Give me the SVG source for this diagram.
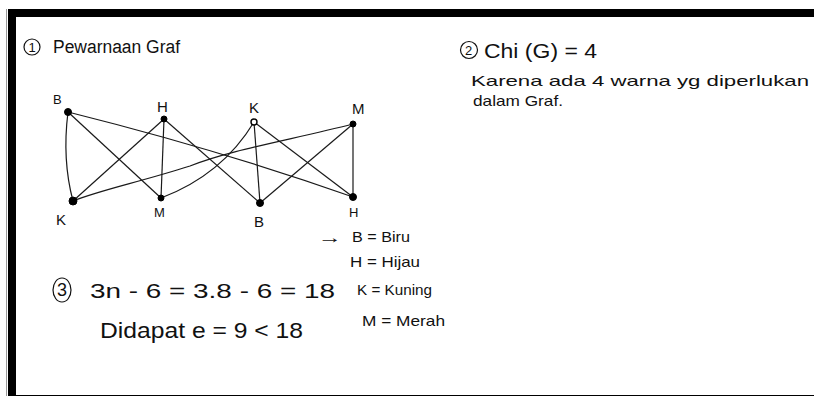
<svg xmlns="http://www.w3.org/2000/svg" width="814" height="396" viewBox="0 0 814 396">
<style>
text{font-family:"Liberation Sans","DejaVu Sans",sans-serif;fill:#111;}
.h{font-size:18px;}
.s{font-size:13px;}
.l{font-size:15px;}
.e{fill:none;stroke:#1a1a1a;stroke-width:1.2;}
.n{fill:#000;stroke:#000;stroke-width:1;}
.c{fill:none;stroke:#111;stroke-width:1.2;}
</style>
<rect width="814" height="396" fill="#fff"/>
<rect x="8" y="9" width="806" height="8" fill="#000"/>
<rect x="8" y="9" width="8" height="387" fill="#000"/>
<rect x="6" y="9" width="1" height="387" fill="#999"/>
<rect x="16" y="395" width="798" height="1" fill="#000"/>

<g id="title1">
<circle class="c" cx="32" cy="47" r="8"/>
<text class="s" x="28.5" y="52">1</text>
<text class="h" x="53" y="53" textLength="127" lengthAdjust="spacingAndGlyphs">Pewarnaan Graf</text>
</g>

<g id="edges">
<path class="e" d="M68,112 Q62,160 73,201"/>
<path class="e" d="M68,112 L161,198"/>
<path class="e" d="M68,112 Q220,150 353,197"/>
<path class="e" d="M164,119 L73,201"/>
<path class="e" d="M164,119 L161,198"/>
<path class="e" d="M164,119 L260,203"/>
<path class="e" d="M254,122 Q222,175 161,198"/>
<path class="e" d="M254,122 L260,203"/>
<path class="e" d="M254,122 L353,197"/>
<path class="e" d="M353,124 C290,140 230,150 190,166 C140,182 100,190 73,201"/>
<path class="e" d="M353,124 L260,203"/>
<path class="e" d="M353,124 L353,197"/>
</g>

<g id="node-B-top"><circle class="n" cx="68" cy="112" r="3.5"/><text class="s" x="53" y="104">B</text></g>
<g id="node-H-top"><circle class="n" cx="164" cy="119" r="3"/><text class="l" x="157" y="112">H</text></g>
<g id="node-K-top"><circle cx="254" cy="122" r="3" fill="#fff" stroke="#000" stroke-width="1.4"/><text class="l" x="249" y="113">K</text></g>
<g id="node-M-top"><circle class="n" cx="353" cy="124" r="3"/><text class="l" x="352" y="114">M</text></g>
<g id="node-K-bottom"><circle class="n" cx="73" cy="201" r="4"/><text class="l" x="56" y="225">K</text></g>
<g id="node-M-bottom"><circle class="n" cx="161" cy="198" r="3"/><text class="s" x="154" y="217">M</text></g>
<g id="node-B-bottom"><circle class="n" cx="260" cy="203" r="3.5"/><text class="l" x="254" y="227">B</text></g>
<g id="node-H-bottom"><circle class="n" cx="353" cy="197" r="3.5"/><text class="s" x="349" y="217">H</text></g>

<g id="item2">
<circle class="c" cx="469" cy="50" r="8.5"/>
<text class="s" x="465" y="55">2</text>
<text x="484" y="58" font-size="20" textLength="113" lengthAdjust="spacingAndGlyphs">Chi (G) = 4</text>
<text x="471" y="86" font-size="15" textLength="338" lengthAdjust="spacingAndGlyphs">Karena ada 4 warna yg diperlukan</text>
<text x="473" y="106" font-size="15" textLength="90" lengthAdjust="spacingAndGlyphs">dalam Graf.</text>
</g>

<g id="legend">
<text x="318" y="243" font-size="16" font-family="DejaVu Sans, sans-serif" textLength="24" lengthAdjust="spacingAndGlyphs">→</text>
<text class="l" x="352" y="242" textLength="58" lengthAdjust="spacingAndGlyphs">B = Biru</text>
<text class="l" x="350" y="267" textLength="70" lengthAdjust="spacingAndGlyphs">H = Hijau</text>
<text class="l" x="357" y="295" textLength="75" lengthAdjust="spacingAndGlyphs">K = Kuning</text>
<text class="l" x="362" y="326" textLength="83" lengthAdjust="spacingAndGlyphs">M = Merah</text>
</g>

<g id="item3">
<ellipse class="c" cx="62" cy="290" rx="9" ry="12"/>
<text class="h" x="57" y="296">3</text>
<text x="90" y="298" font-size="20" textLength="245" lengthAdjust="spacingAndGlyphs">3n - 6 = 3.8 - 6 = 18</text>
<text x="100" y="338" font-size="22" textLength="203" lengthAdjust="spacingAndGlyphs">Didapat e = 9 &lt; 18</text>
</g>
</svg>
